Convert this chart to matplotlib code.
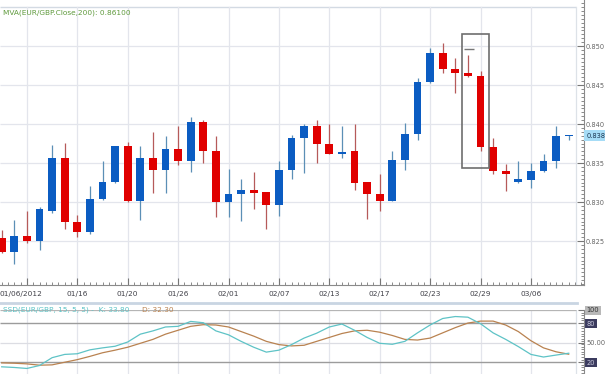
import matplotlib
matplotlib.use("Agg")
import matplotlib.pyplot as plt
from matplotlib.lines import Line2D
from matplotlib.patches import Rectangle
from matplotlib.ticker import FixedLocator, MultipleLocator
from matplotlib import transforms

# EUR/GBP daily candles (index = trading day)
opens = [0.8254, 0.8236, 0.8256, 0.8250, 0.8289, 0.8356, 0.8275, 0.8262, 0.8304, 0.8326,
         0.8372, 0.8301, 0.8357, 0.8341, 0.8368, 0.8353, 0.8403, 0.8365, 0.8300, 0.8310,
         0.8315, 0.8313, 0.8296, 0.8341, 0.8382, 0.8397, 0.8374, 0.8362, 0.8365, 0.8326,
         0.8310, 0.8301, 0.8354, 0.8387, 0.8454, 0.8491, 0.8470, 0.8465, 0.8461, 0.8371,
         0.8340, 0.8326, 0.8328, 0.8340, 0.8352, 0.8384]
highs = [0.8264, 0.8277, 0.8288, 0.8294, 0.8373, 0.8376, 0.8283, 0.8320, 0.8353, 0.8372,
         0.8377, 0.8372, 0.8390, 0.8385, 0.8397, 0.8409, 0.8405, 0.8384, 0.8342, 0.8330,
         0.8338, 0.8313, 0.8353, 0.8386, 0.8400, 0.8405, 0.8400, 0.8397, 0.8400, 0.8326,
         0.8336, 0.8366, 0.8401, 0.8459, 0.8497, 0.8504, 0.8484, 0.8488, 0.8468, 0.8382,
         0.8349, 0.8352, 0.8350, 0.8362, 0.8397, 0.8386]
lows = [0.8234, 0.8221, 0.8247, 0.8239, 0.8286, 0.8265, 0.8255, 0.8259, 0.8303, 0.8325,
        0.8300, 0.8277, 0.8312, 0.8311, 0.8347, 0.8338, 0.8350, 0.8281, 0.8281, 0.8276,
        0.8291, 0.8265, 0.8282, 0.8330, 0.8337, 0.8350, 0.8362, 0.8356, 0.8316, 0.8278,
        0.8288, 0.8301, 0.8341, 0.8379, 0.8452, 0.8465, 0.8440, 0.8460, 0.8365, 0.8336,
        0.8314, 0.8324, 0.8318, 0.8339, 0.8343, 0.8380]
closes = [0.8236, 0.8256, 0.8250, 0.8291, 0.8356, 0.8274, 0.8261, 0.8304, 0.8326, 0.8372,
          0.8301, 0.8357, 0.8341, 0.8368, 0.8353, 0.8403, 0.8365, 0.8300, 0.8310, 0.8315,
          0.8312, 0.8296, 0.8341, 0.8382, 0.8397, 0.8374, 0.8362, 0.8364, 0.8325, 0.8310,
          0.8301, 0.8354, 0.8387, 0.8454, 0.8491, 0.8470, 0.8465, 0.8461, 0.8371, 0.8340,
          0.8336, 0.8329, 0.8340, 0.8352, 0.8384, 0.8385]

# slow stochastic %K / %D
k_vals = [13, 12, 10.5, 15, 27, 32, 33, 39, 42, 44.5, 51, 63, 68, 74, 75, 82.5, 80.5, 68,
          62, 52, 43, 35.5, 38.5, 47, 57, 64.5, 74, 78.5, 69, 58, 49, 47.5, 52, 65, 77,
          87, 90, 89, 79, 65, 55, 44, 32, 28, 31, 33.8]
d_vals = [19, 18.5, 17.5, 15.5, 16, 20, 24, 29, 34.5, 38.5, 43, 49, 55, 63, 69, 75, 77.5,
          77, 74, 67, 60, 52, 47, 45, 46, 52, 58, 64, 68, 69, 66, 61, 55, 54, 57, 65, 73,
          80, 83, 83, 77, 67, 53, 42, 36, 32.3]

date_ticks = [2, 6, 10, 14, 18, 22, 26, 30, 34, 38, 42]
date_labels = ["01/06/2012", "01/16", "01/20", "01/26", "02/01", "02/07", "02/13",
               "02/17", "02/23", "02/29", "03/06"]
price_ticks = [0.825, 0.830, 0.835, 0.840, 0.845, 0.850]
osc_ticks = [20, 50, 80, 100]
osc_labels = ["20", "50.00", "80", "100"]

# highlighted reversal box (candle index range, price range) and prior-high dash
box_x = (36.5, 38.67)
box_y = (0.8344, 0.8515)
dash_x = (36.7, 37.5)
dash_y = 0.8496

UP = "#0b5cc2"
DOWN = "#e00000"
UP_WICK = "#5b8fb6"
DOWN_WICK = "#b65a5a"
GRID = "#e3e5ec"
FS = 5.3
FS_R = 4.8  # right-hand axis labels (narrow margin)

W, H = 605, 374
fig = plt.figure(figsize=(W / 100, H / 100), dpi=100)
plt.rcParams["font.family"] = ["DejaVu Sans"]

x_lo = -1.7 / 12.6
x_hi = (584 - 1.7) / 12.6
frame_x = (575.7 - 1.7) / 12.6

# ---- price panel ----
ax = fig.add_axes([0, (H - 285) / H, 584 / W, 285 / H])
ax.set_xlim(x_lo, x_hi)
ax.set_ylim(0.81936, 0.85590)

for v in price_ticks:
    ax.hlines(v, x_lo, frame_x, color=GRID, lw=0.9, zorder=0)
ax.hlines(0.85504, x_lo, frame_x, color="#d3dae3", lw=1.0, zorder=0)
for t in date_ticks:
    ax.axvline(t, ymax=(285 - 7) / 285, color=GRID, lw=0.9, zorder=0)
ax.axvline(frame_x, ymax=(285 - 7) / 285, color="#dde2e8", lw=0.9, zorder=0)

for i, (o, h, l, c) in enumerate(zip(opens, highs, lows, closes)):
    up = c >= o
    ax.vlines(i, l, h, color=UP_WICK if up else DOWN_WICK, lw=0.9, zorder=1)
    lo_b = min(o, c)
    hgt = max(abs(c - o), 0.00013)
    ax.bar(i, hgt, bottom=lo_b, width=0.63, color=UP if up else DOWN,
           edgecolor="none", zorder=2)

ax.add_patch(Rectangle((box_x[0], box_y[0]), box_x[1] - box_x[0], box_y[1] - box_y[0],
                       fill=False, edgecolor="#6e6e6e", lw=1.2, zorder=3))
ax.hlines(dash_y, dash_x[0], dash_x[1], color="#777777", lw=1.0, zorder=3)

ax.spines[["top", "left"]].set_visible(False)
ax.spines["right"].set_color("#8a8a8a")
ax.spines["bottom"].set_color("#8a8a8a")
ax.yaxis.tick_right()
ax.set_yticks(price_ticks)
ax.set_yticklabels([f"{v:.3f}" for v in price_ticks])
ax.yaxis.set_minor_locator(MultipleLocator(0.0005))
ax.tick_params(axis="y", which="major", direction="in", length=5, pad=1,
               labelsize=FS_R, labelcolor="#666666", color="#777777")
ax.tick_params(axis="y", which="minor", direction="in", length=2.5, color="#777777")
ax.set_xticks(date_ticks)
ax.set_xticklabels(date_labels)
ax.xaxis.set_minor_locator(FixedLocator([i * 0.5 for i in range(93)]))
ax.tick_params(axis="x", which="major", direction="in", length=5, pad=4,
               labelsize=FS, labelcolor="#404048", color="#777777")
ax.tick_params(axis="x", which="minor", direction="in", length=2.5, color="#777777")
first = ax.get_xticklabels()[0]
first.set_transform(first.get_transform() + transforms.ScaledTranslation(-6.0 / 100, 0, fig.dpi_scale_trans))

ax.text(0.005, 0.955, "MVA(EUR/GBP.Close,200): 0.86100", transform=ax.transAxes,
        fontsize=FS, color="#5f9a3c", ha="left", va="center")

# last price tag
ytf = transforms.blended_transform_factory(ax.transAxes, ax.transData)
ax.text(1.004, closes[-1], f"{closes[-1]:.4f}"[:-1], transform=ytf, fontsize=FS_R,
        color="#1a3550", ha="left", va="center", clip_on=False,
        bbox=dict(boxstyle="square,pad=0.35", facecolor="#a6dcf6", edgecolor="none"))

# ---- separator ----
fig.add_artist(Line2D([0, 577 / W], [(H - 303.3) / H] * 2, color="#c9d5e2", lw=2.0))

# ---- stochastic panel ----
ax2 = fig.add_axes([0, 0, 584 / W, 64 / H])
ax2.set_xlim(x_lo, x_hi)
ax2.set_ylim(2, 100)
for t in date_ticks:
    ax2.axvline(t, color=GRID, lw=0.9, zorder=0)
ax2.axvline(frame_x, color="#dde2e8", lw=0.9, zorder=0)
ax2.hlines(50, x_lo, frame_x, color="#dcdde3", lw=0.9, zorder=0)
ax2.hlines([20, 80], x_lo, frame_x, color="#9c9c9c", lw=1.0, zorder=0)
ax2.hlines(100, x_lo, frame_x, color="#b5b5b5", lw=0.9, zorder=0)

xs = list(range(len(k_vals)))
ax2.plot(xs, d_vals, color="#b98250", lw=0.9, zorder=2)
ax2.plot(xs, k_vals, color="#5ec3c6", lw=0.9, zorder=3)

ax2.spines[["top", "left", "bottom"]].set_visible(False)
ax2.spines["right"].set_color("#8a8a8a")
ax2.yaxis.tick_right()
ax2.set_yticks(osc_ticks)
ax2.set_yticklabels(osc_labels)
ax2.yaxis.set_minor_locator(MultipleLocator(4))
ax2.tick_params(axis="y", which="major", direction="in", length=4, pad=2,
                labelsize=FS_R, labelcolor="#666666", color="#777777")
ax2.tick_params(axis="y", which="minor", direction="in", length=2, color="#777777")
ax2.set_xticks([])
for lab in ax2.get_yticklabels():
    txt = lab.get_text()
    if txt in ("20", "80"):
        lab.set_color("#c9c9dc")
        lab.set_bbox(dict(boxstyle="square,pad=0.2", facecolor="#3b3b5e", edgecolor="none"))
    elif txt == "100":
        lab.set_color("#333333")
        lab.set_bbox(dict(boxstyle="square,pad=0.2", facecolor="#b8b8b8", edgecolor="none"))

ax2.text(0.005, 100, "SSD(EUR/GBP, 15, 5, 5) -  K: 33.80", fontsize=FS,
         color="#5ec3c6", ha="left", va="center",
         transform=transforms.blended_transform_factory(ax2.transAxes, ax2.transData))
ax2.text(0.243, 100, "D: 32.30", fontsize=FS, color="#b98250", ha="left", va="center",
         transform=transforms.blended_transform_factory(ax2.transAxes, ax2.transData))

fig.savefig("out.png", dpi=100)
